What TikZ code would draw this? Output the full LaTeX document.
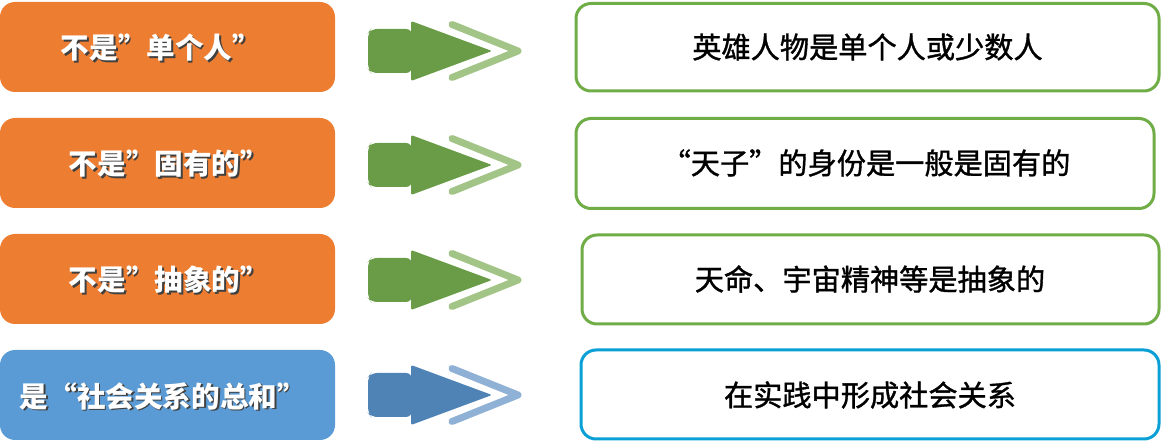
\documentclass[tikz,border=0pt]{standalone}
\usepackage{fontspec}
\newfontfamily\cjk{Noto Sans CJK SC}
\newfontfamily\cjkmed[FakeBold=1.2]{Noto Sans CJK SC}
\definecolor{orangebox}{HTML}{ED7D31}
\definecolor{bluebox}{HTML}{5B9BD5}
\definecolor{greenarrow}{HTML}{6A9C48}
\definecolor{greenlight}{HTML}{A2C587}
\definecolor{greenborder}{HTML}{70AD47}
\definecolor{bluearrow}{HTML}{4F83B6}
\definecolor{bluelight}{HTML}{8FB1D6}
\definecolor{blueborder}{HTML}{0AA0D6}
\tikzset{
  leftbox/.style={rounded corners=15pt, draw=none},
  rightbox/.style={rounded corners=15pt, line width=3pt, fill=white},
  lefttext/.style={font=\cjk\bfseries\fontsize{28.6}{31}\selectfont, text=white, inner sep=0pt},
  shadowtext/.style={font=\cjk\bfseries\fontsize{28.6}{31}\selectfont, text=black!75, inner sep=0pt},
  righttext/.style={font=\cjkmed\fontsize{29.2}{32}\selectfont, text=black, inner sep=0pt},
}
\newcommand{\rowarrow}[3]{%
  % #1 = centre y, #2 = dark colour, #3 = light colour
  \fill[#2, rounded corners=6pt] (412,#1-22) -- (371,#1-22) -- (368,#1-18) -- (368,#1+18) -- (371,#1+22) -- (412,#1+22) -- cycle;
  \fill[#2, rounded corners=2pt] (411,#1-30) -- (492,#1) -- (411,#1+30) -- cycle;
  \draw[#3, line width=7pt, line cap=round, line join=round] (452,#1-26.5) -- (518,#1) -- (452,#1+26.5);
}
\begin{document}
\begin{tikzpicture}[x=1pt,y=-1pt]
\useasboundingbox (0,0) rectangle (1163,443);
% left boxes
\fill[leftbox, orangebox] (0,2) rectangle (335,92);
\fill[leftbox, orangebox] (0,118) rectangle (335,208);
\fill[leftbox, orangebox] (0,234) rectangle (335,324);
\fill[leftbox, bluebox] (0,350) rectangle (335,440);
\node[shadowtext] at (162.5,49.5) {不是”单个人”};
\node[lefttext] (l1) at (161,48) {不是”单个人”};
\node[shadowtext] at (170.5,165.5) {不是”固有的”};
\node[lefttext] (l2) at (169,164) {不是”固有的”};
\node[shadowtext] at (170.5,281.5) {不是”抽象的”};
\node[lefttext] (l3) at (169,280) {不是”抽象的”};
\node[shadowtext] at (164.5,397.5) {是“社会关系的总和”};
\node[lefttext] (l4) at (163,396) {是“社会关系的总和”};
% arrows
\rowarrow{51}{greenarrow}{greenlight}
\rowarrow{165}{greenarrow}{greenlight}
\rowarrow{280}{greenarrow}{greenlight}
\rowarrow{395}{bluearrow}{bluelight}
% right boxes
\draw[rightbox, draw=greenborder] (576,3.5) rectangle (1159,91);
\draw[rightbox, draw=greenborder] (576,118.5) rectangle (1154,208.5);
\draw[rightbox, draw=greenborder] (582,235) rectangle (1159,324);
\draw[rightbox, draw=blueborder] (581,350) rectangle (1159,439);
\node[righttext] (r1) at (867.5,47) {英雄人物是单个人或少数人};
\node[righttext] (r2) at (866,163) {“天子”的身份是一般是固有的};
\node[righttext] (r3) at (870,279) {天命、宇宙精神等是抽象的};
\node[righttext] (r4) at (870,395) {在实践中形成社会关系};
\end{tikzpicture}
\end{document}
